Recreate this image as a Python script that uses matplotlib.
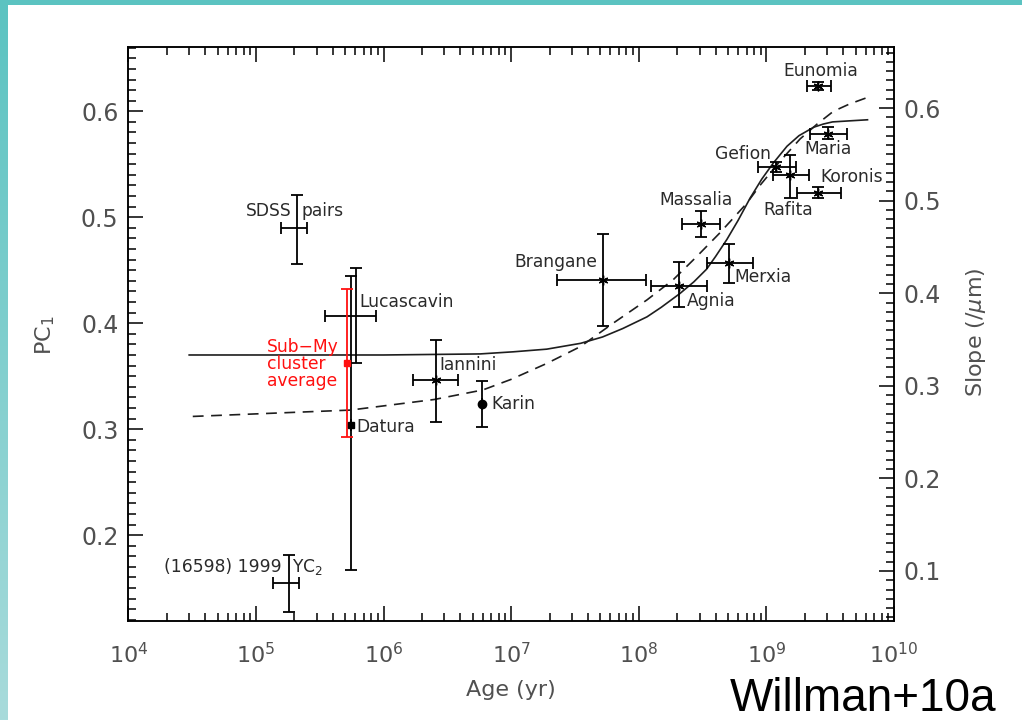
import numpy as np
import matplotlib
matplotlib.use("Agg")
import matplotlib.pyplot as plt
from matplotlib.ticker import FixedLocator, MultipleLocator, LogLocator, NullFormatter

# ---------------- data ----------------
names = ["SDSS pairs", "(16598) 1999 YC2", "Lucascavin", "Datura", "Iannini", "Karin",
         "Brangane", "Agnia", "Massalia", "Merxia", "Gefion", "Rafita", "Koronis",
         "Eunomia", "Maria"]
age = [2.1e5, 1.82e5, 6.1e5, 5.53e5, 2.56e6, 5.9e6,
       5.2e7, 2.07e8, 3.06e8, 5.07e8, 1.20e9, 1.53e9, 2.56e9,
       2.56e9, 3.06e9]
age_lo = [1.57e5, 1.36e5, 3.5e5, 5.53e5, 1.71e6, 5.9e6,
          2.3e7, 1.24e8, 2.2e8, 3.4e8, 8.65e8, 1.12e9, 1.75e9,
          2.07e9, 2.2e9]
age_hi = [2.53e5, 2.18e5, 8.73e5, 5.53e5, 3.81e6, 5.9e6,
          1.14e8, 3.41e8, 4.34e8, 7.8e8, 1.71e9, 2.14e9, 3.83e9,
          3.2e9, 4.27e9]
pc1 = [0.490, 0.155, 0.407, 0.304, 0.3465, 0.324,
       0.441, 0.435, 0.4934, 0.4566, 0.5477, 0.540, 0.5232,
       0.624, 0.579]
pc1_lo = [0.456, 0.127, 0.362, 0.167, 0.307, 0.302,
          0.397, 0.415, 0.481, 0.4377, 0.543, 0.518, 0.518,
          0.620, 0.574]
pc1_hi = [0.521, 0.1814, 0.452, 0.445, 0.384, 0.345,
          0.484, 0.4576, 0.506, 0.4745, 0.5525, 0.5588, 0.529,
          0.628, 0.585]
marker_kind = ["none", "none", "none", "square", "star", "dot",
               "star", "star", "star", "star", "star", "star", "star",
               "star", "star"]

# sub-Myr cluster average
submy_age = 5.14e5
submy_pc1 = 0.362
submy_lo = 0.293
submy_hi = 0.432

# space-weathering model curves
solid_age = [3.0e4, 1e5, 1e6, 5.7e6, 1.04e7, 1.9e7, 3.5e7, 5.2e7, 7.5e7, 1.16e8, 1.5e8,
             2.1e8, 2.7e8, 3.4e8, 4.0e8, 4.9e8, 6.0e8, 7.45e8, 9.2e8, 1.13e9, 1.45e9,
             1.8e9, 2.35e9, 2.8e9, 3.3e9, 4.5e9, 6.2e9]
solid_pc1 = [0.370, 0.370, 0.370, 0.371, 0.373, 0.3755, 0.381, 0.387, 0.395, 0.406, 0.415,
             0.428, 0.439, 0.451, 0.463, 0.479, 0.497, 0.518, 0.536, 0.551, 0.567,
             0.577, 0.585, 0.588, 0.590, 0.591, 0.592]
dashed_age = [3.2e4, 5.5e5, 2.5e6, 6.0e6, 1.0e7, 1.9e7, 3.5e7, 6.3e7, 1.16e8, 1.86e8,
              2.85e8, 4.3e8, 7.0e8, 8.9e8, 1.26e9, 1.84e9, 2.5e9, 3.35e9, 4.5e9, 6.5e9]
dashed_pc1 = [0.312, 0.318, 0.328, 0.337, 0.347, 0.362, 0.378, 0.400, 0.422, 0.441,
              0.463, 0.485, 0.513, 0.530, 0.552, 0.574, 0.588, 0.600, 0.607, 0.614]

x_ticks = [1e4, 1e5, 1e6, 1e7, 1e8, 1e9, 1e10]
y_ticks = [0.2, 0.3, 0.4, 0.5, 0.6]
slope_ticks = [0.1, 0.2, 0.3, 0.4, 0.5, 0.6]

# ---------------- figure ----------------
W, H = 1022, 720
fig = plt.figure(figsize=(W / 100, H / 100), dpi=100)
fig.patch.set_facecolor("white")

# teal slide frame (left strip with vertical gradient, top strip)
top_col = np.array([0x5b, 0xc3, 0xc1]) / 255.0
bot_col = np.array([0xa8, 0xdb, 0xdb]) / 255.0
t = np.linspace(0, 1, H)[:, None, None]
left_strip = np.repeat(top_col * (1 - t) + bot_col * t, 8, axis=1)
fig.figimage(left_strip, xo=0, yo=0, origin="upper", zorder=0)
fig.figimage(np.tile(top_col, (5, W, 1)), xo=0, yo=H - 5, origin="upper", zorder=0)

left_px, right_px, top_px, bot_px = 128.3, 894.0, 47.0, 620.7
ax = fig.add_axes([left_px / W, 1 - bot_px / H, (right_px - left_px) / W, (bot_px - top_px) / H])
ax.set_facecolor("none")
ax.set_xscale("log")
ax.set_xlim(1e4, 1e10)
ax.set_ylim(0.1192, 0.6607)

TICK_C = "#505050"
TXT_C = "#2a2a2a"
LW = 1.1

for s in ax.spines.values():
    s.set_linewidth(LW)
    s.set_color("black")

ax.xaxis.set_major_locator(FixedLocator(x_ticks))
ax.xaxis.set_minor_locator(LogLocator(base=10, subs=np.arange(2, 10), numticks=20))
ax.xaxis.set_minor_formatter(NullFormatter())
ax.yaxis.set_major_locator(FixedLocator(y_ticks))
ax.yaxis.set_minor_locator(MultipleLocator(0.01))
ax.tick_params(which="both", direction="in", top=True, right=False, width=LW, color="black")
ax.tick_params(which="major", length=11)
ax.tick_params(which="minor", length=5.5)
ax.tick_params(axis="x", which="major", labelsize=16, labelcolor=TICK_C, pad=15)
ax.tick_params(axis="y", which="major", labelsize=17, labelcolor=TICK_C, pad=7)
ax.set_yticklabels([f"{v:.1f}" for v in y_ticks])

ax2 = ax.twinx()
ax2.set_ylim(0.0463, 0.666)
ax2.yaxis.set_major_locator(FixedLocator(slope_ticks))
ax2.yaxis.set_minor_locator(MultipleLocator(0.01))
ax2.tick_params(which="both", direction="in", width=LW, color="black")
ax2.tick_params(which="major", length=11, labelsize=17, labelcolor=TICK_C, pad=7)
ax2.tick_params(which="minor", length=5.5)
ax2.set_yticklabels([f"{v:.1f}" for v in slope_ticks])
for s in ax2.spines.values():
    s.set_linewidth(LW)

# model curves
ax.plot(solid_age, solid_pc1, color="#1e1e1e", lw=1.2, zorder=2, solid_joinstyle="round")
ax.plot(dashed_age, dashed_pc1, color="#1e1e1e", lw=1.2, dashes=(6.5, 4.5), zorder=2)

# measurements with error bars
mstyle = {"none": dict(marker="none"),
          "star": dict(marker=(6, 2, 0), markersize=7, markeredgewidth=1.0),
          "square": dict(marker="s", markersize=5),
          "dot": dict(marker="o", markersize=6)}
for a, lo, hi, p, plo, phi, mk in zip(age, age_lo, age_hi, pc1, pc1_lo, pc1_hi, marker_kind):
    ax.errorbar([a], [p], xerr=[[a - lo], [hi - a]], yerr=[[p - plo], [phi - p]],
                fmt="none", ecolor="black", elinewidth=1.3, capsize=4.2, capthick=1.3, zorder=3)
    if mk != "none":
        ax.plot([a], [p], linestyle="none", color="black", markerfacecolor="black",
                markeredgecolor="black", zorder=4, **mstyle[mk])

ax.errorbar([submy_age], [submy_pc1], yerr=[[submy_pc1 - submy_lo], [submy_hi - submy_pc1]],
            fmt="s", color="#ff1010", ecolor="#ff1010", markersize=4, elinewidth=1.3,
            capsize=4.2, capthick=1.3, zorder=3.5)

# point labels (offsets in pixels from the point)
LFS = 12.3
label_layout = {
    "Lucascavin": ((3, 14), "left"),
    "Datura": ((6, -2), "left"),
    "Iannini": ((4, 15), "left"),
    "Karin": ((9, 0), "left"),
    "Brangane": ((-5, 18), "right"),
    "Agnia": ((8, -15), "left"),
    "Massalia": ((-5, 24), "center"),
    "Merxia": ((6, -14), "left"),
    "Gefion": ((-5, 13), "right"),
    "Rafita": ((-2, -35), "center"),
    "Koronis": ((2, 16), "left"),
    "Eunomia": ((2, 15), "center"),
    "Maria": ((0, -15), "center"),
}
for n, a, p in zip(names, age, pc1):
    if n in label_layout:
        off, ha = label_layout[n]
        ax.annotate(n, (a, p), xytext=off, textcoords="offset pixels", ha=ha, va="center",
                    fontsize=LFS, color=TXT_C, zorder=5)
    elif n == "SDSS pairs":
        ax.annotate("SDSS", (a, p), xytext=(-5, 17), textcoords="offset pixels", ha="right",
                    va="center", fontsize=LFS, color=TXT_C)
        ax.annotate("pairs", (a, p), xytext=(4, 17), textcoords="offset pixels", ha="left",
                    va="center", fontsize=LFS, color=TXT_C)
    elif n.startswith("(16598)"):
        ax.annotate("(16598) 1999", (a, p), xytext=(-7, 16), textcoords="offset pixels",
                    ha="right", va="center", fontsize=LFS, color=TXT_C)
        ax.annotate("YC$_2$", (a, p), xytext=(3, 16), textcoords="offset pixels",
                    ha="left", va="center", fontsize=LFS, color=TXT_C)

ax.annotate("Sub\u2212My\ncluster\naverage", (submy_age, submy_pc1), xytext=(-80, 25),
            textcoords="offset pixels", ha="left", va="top", fontsize=LFS,
            color="#ff1010", linespacing=0.92)

# axis titles
fig.text(511 / W, 1 - 690 / H, "Age (yr)", ha="center", va="center", fontsize=16, color=TICK_C)
fig.text(45 / W, 1 - 335 / H, "PC$_1$", ha="center", va="center", rotation=90,
         fontsize=16, color=TICK_C)
fig.text(976 / W, 1 - 332 / H, "Slope (/$\\mu$m)", ha="center", va="center", rotation=90,
         fontsize=16, color=TICK_C)

fig.text(730 / W, 1 - 711 / H, "Willman+10a", ha="left", va="baseline",
         fontsize=33, family="Liberation Sans", color="black")

fig.savefig("out.png", dpi=100)
